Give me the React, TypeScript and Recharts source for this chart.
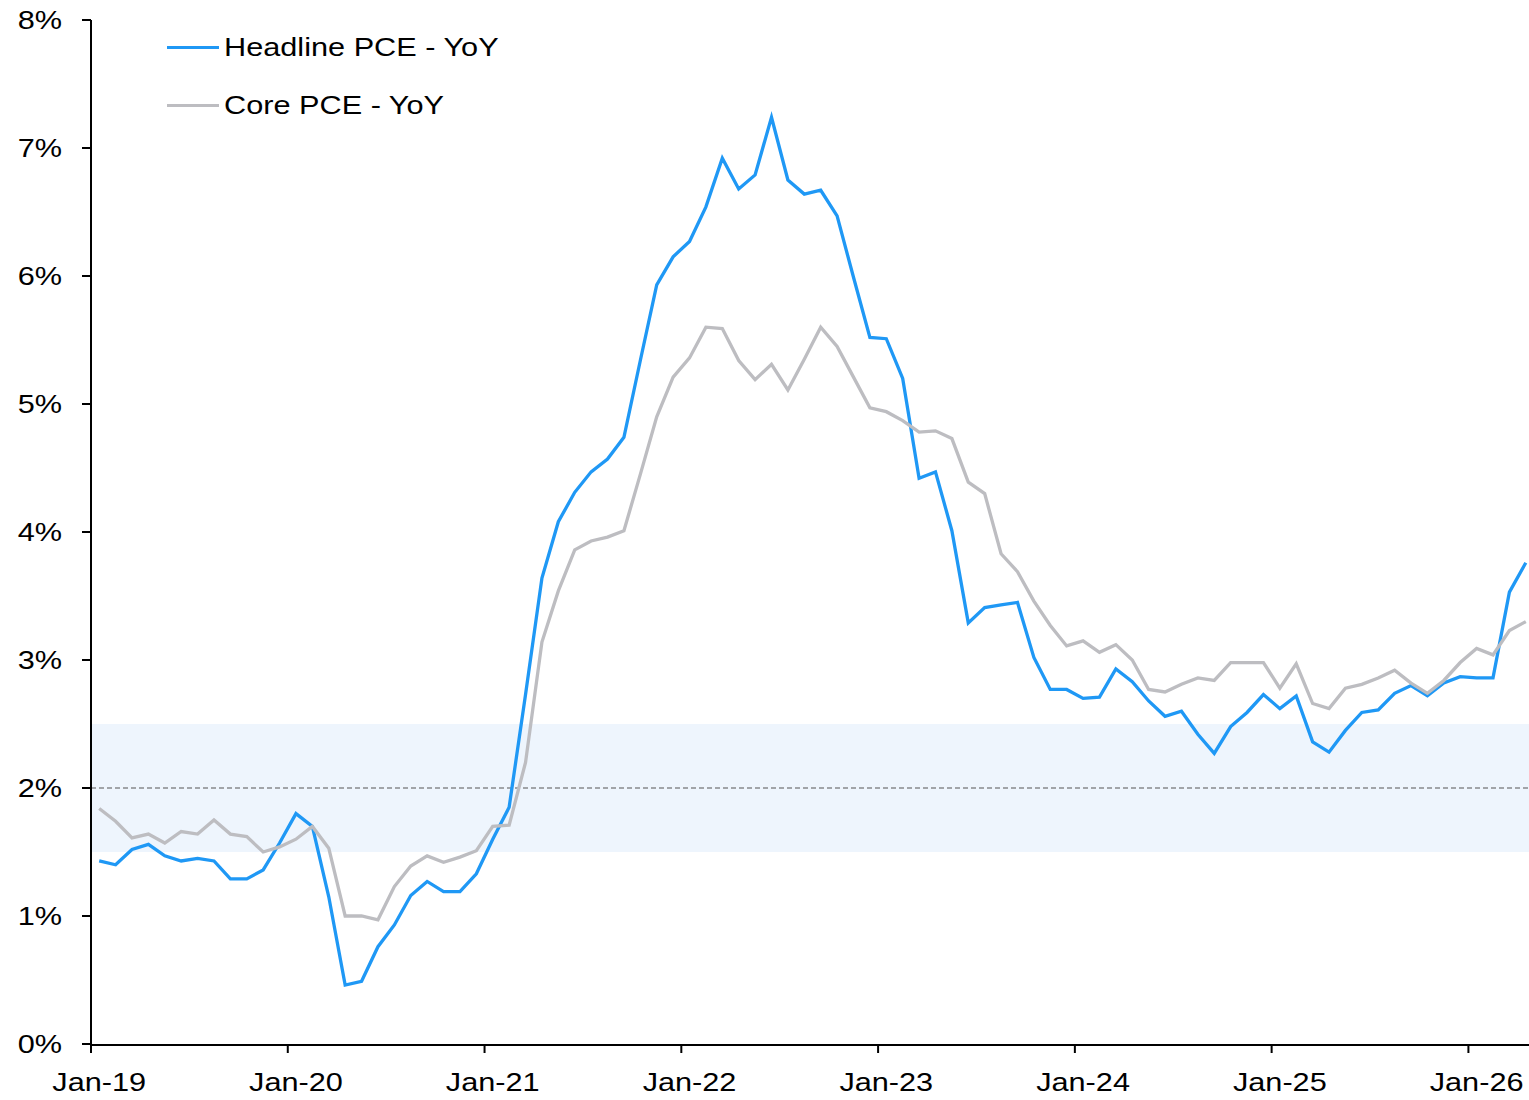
import { LineChart, Line, XAxis, YAxis, ReferenceArea, ReferenceLine, Legend } from 'recharts'

const MONTH_NAMES = ['Jan', 'Feb', 'Mar', 'Apr', 'May', 'Jun', 'Jul', 'Aug', 'Sep', 'Oct', 'Nov', 'Dec']
const START_YEAR = 2019

// Monthly YoY %, Jan-19 .. Apr-26
const HEADLINE_PCE = [
  1.43, 1.4, 1.52, 1.56, 1.47, 1.43, 1.45, 1.43, 1.29, 1.29, 1.36, 1.57,
  1.8, 1.7, 1.15, 0.46, 0.49, 0.76, 0.93, 1.16, 1.27, 1.19, 1.19, 1.33,
  1.6, 1.85, 2.73, 3.64, 4.08, 4.31, 4.47, 4.57, 4.74, 5.34, 5.93, 6.15,
  6.27, 6.54, 6.92, 6.68, 6.79, 7.24, 6.75, 6.64, 6.67, 6.47, 5.99, 5.52,
  5.51, 5.2, 4.42, 4.47, 4.01, 3.29, 3.41, 3.43, 3.45, 3.02, 2.77, 2.77,
  2.7, 2.71, 2.93, 2.83, 2.68, 2.56, 2.6, 2.42, 2.27, 2.48, 2.59, 2.73,
  2.62, 2.72, 2.36, 2.28, 2.45, 2.59, 2.61, 2.74, 2.8, 2.72, 2.82, 2.87,
  2.86, 2.86, 3.53, 3.76,
]

const CORE_PCE = [
  1.84, 1.74, 1.61, 1.64, 1.57, 1.66, 1.64, 1.75, 1.64, 1.62, 1.5, 1.54,
  1.6, 1.7, 1.53, 1.0, 1.0, 0.97, 1.23, 1.39, 1.47, 1.42, 1.46, 1.51,
  1.7, 1.71, 2.2, 3.14, 3.54, 3.86, 3.93, 3.96, 4.01, 4.45, 4.9, 5.21,
  5.36, 5.6, 5.59, 5.34, 5.19, 5.31, 5.11, 5.35, 5.6, 5.45, 5.21, 4.97,
  4.94, 4.87, 4.78, 4.79, 4.73, 4.39, 4.3, 3.83, 3.69, 3.46, 3.27, 3.11,
  3.15, 3.06, 3.12, 3.0, 2.77, 2.75, 2.81, 2.86, 2.84, 2.98, 2.98, 2.98,
  2.78, 2.97, 2.66, 2.62, 2.78, 2.81, 2.86, 2.92, 2.82, 2.74, 2.84, 2.98,
  3.09, 3.04, 3.23, 3.3,
]

const SERIES_NAMES = ['Headline PCE - YoY', 'Core PCE - YoY']
const Y_TICKS = [0, 1, 2, 3, 4, 5, 6, 7, 8]
const TARGET = 2
const TARGET_BAND = [1.5, 2.5]

const BLUE = '#1F98F5'
const GREY = '#BDBDC1'
const FONT = '"Liberation Sans", Arial, sans-serif'
const FONT_SIZE = 26
// the source image is stretched sideways, so is its text
const TEXT_STRETCH = 1.18

const months = HEADLINE_PCE.map((_, i) => {
  const yy = String((START_YEAR + Math.floor(i / 12)) % 100).padStart(2, '0')
  return `${MONTH_NAMES[i % 12]}-${yy}`
})

const chartData = months.map((m, i) => ({
  idx: i,
  month: m,
  headline: HEADLINE_PCE[i],
  core: CORE_PCE[i],
}))

// labels sit in the middle of January, tick marks on the category edges (Excel style)
const LABEL_TICKS = chartData.filter((d) => d.month.startsWith('Jan')).map((d) => d.idx)
const EDGE_TICKS = LABEL_TICKS.map((i) => i - 0.5)
const X_DOMAIN = [-0.5, chartData.length - 0.5]

const AXIS_STROKE = { stroke: '#000', strokeWidth: 2 }

interface TickProps {
  x?: number
  y?: number
  payload?: { value: number }
  textAnchor?: string
  dy?: string
  format: (v: number) => string
}

function StretchedTick({ x = 0, y = 0, payload, textAnchor, dy, format }: TickProps) {
  if (!payload) return null
  return (
    <g transform={`translate(${x},${y}) scale(${TEXT_STRETCH},1)`}>
      <text x={0} y={0} dy={dy} textAnchor={textAnchor} fill="#000" fontSize={FONT_SIZE} fontFamily={FONT}>
        {format(payload.value)}
      </text>
    </g>
  )
}

const fmtMonth = (v: number) => months[v] ?? ''
const fmtPct = (v: number) => `${v}%`
const renderMonthTick = (p: any) => (
  <StretchedTick x={p.x} y={p.y} payload={p.payload} textAnchor="middle" dy="0.71em" format={fmtMonth} />
)
const renderPctTick = (p: any) => (
  <StretchedTick x={p.x} y={p.y} payload={p.payload} textAnchor="end" dy="0.355em" format={fmtPct} />
)
const renderNoTick = () => <g />

interface LegendItem {
  value: string
  color: string
}

function LegendContent({ payload }: { payload?: LegendItem[] }) {
  if (!payload) return null
  const items = [...payload].sort((a, b) => SERIES_NAMES.indexOf(a.value) - SERIES_NAMES.indexOf(b.value))
  return (
    <div style={{ fontFamily: FONT, fontSize: FONT_SIZE, color: '#000', whiteSpace: 'nowrap' }}>
      {items.map((item) => (
        <div key={item.value} style={{ display: 'flex', alignItems: 'center', height: 58 }}>
          <span style={{ display: 'inline-block', width: 52, height: 3, background: item.color, marginRight: 5 }} />
          <span style={{ display: 'inline-block', transform: `scaleX(${TEXT_STRETCH})`, transformOrigin: 'left center' }}>
            {item.value}
          </span>
        </div>
      ))}
    </div>
  )
}

const renderLegend = (props: any) => <LegendContent payload={props.payload as LegendItem[]} />

export default function App() {
  return (
    <div style={{ position: 'fixed', left: 0, top: 0, width: 1529, height: 1100, overflow: 'hidden', background: '#fff' }}>
      <LineChart
        width={1539}
        height={1100}
        data={chartData}
        margin={{ top: 20, right: 5, bottom: 0, left: 0 }}
        style={{ fontFamily: FONT }}
      >
        {/* tick marks only, hugging the plot edge */}
        <XAxis
          xAxisId="edges"
          dataKey="idx"
          type="number"
          domain={X_DOMAIN}
          allowDataOverflow
          ticks={EDGE_TICKS}
          interval={0}
          tick={renderNoTick}
          axisLine={false}
          tickLine={AXIS_STROKE}
          tickSize={9}
          height={1}
        />
        <XAxis
          xAxisId="main"
          dataKey="idx"
          type="number"
          domain={X_DOMAIN}
          allowDataOverflow
          ticks={LABEL_TICKS}
          interval={0}
          tick={renderMonthTick}
          tickLine={false}
          tickSize={0}
          tickMargin={28}
          axisLine={AXIS_STROKE}
          height={55}
        />
        <YAxis
          domain={[0, 8]}
          ticks={Y_TICKS}
          interval={0}
          tick={renderPctTick}
          tickLine={AXIS_STROKE}
          tickSize={9}
          tickMargin={20}
          axisLine={AXIS_STROKE}
          width={91}
        />
        <ReferenceArea
          xAxisId="main"
          y1={TARGET_BAND[0]}
          y2={TARGET_BAND[1]}
          fill="#EEF5FD"
          fillOpacity={1}
          stroke="none"
        />
        <ReferenceLine xAxisId="main" y={TARGET} stroke="#555" strokeWidth={1.2} strokeDasharray="5 3" />
        <Legend
          layout="vertical"
          align="center"
          verticalAlign="middle"
          wrapperStyle={{ top: 18, left: 167, width: 'auto' }}
          content={renderLegend}
        />
        <Line
          xAxisId="main"
          type="linear"
          dataKey="headline"
          name={SERIES_NAMES[0]}
          stroke={BLUE}
          strokeWidth={3.3}
          dot={false}
          isAnimationActive={false}
        />
        <Line
          xAxisId="main"
          type="linear"
          dataKey="core"
          name={SERIES_NAMES[1]}
          stroke={GREY}
          strokeWidth={3.3}
          dot={false}
          isAnimationActive={false}
        />
      </LineChart>
    </div>
  )
}
